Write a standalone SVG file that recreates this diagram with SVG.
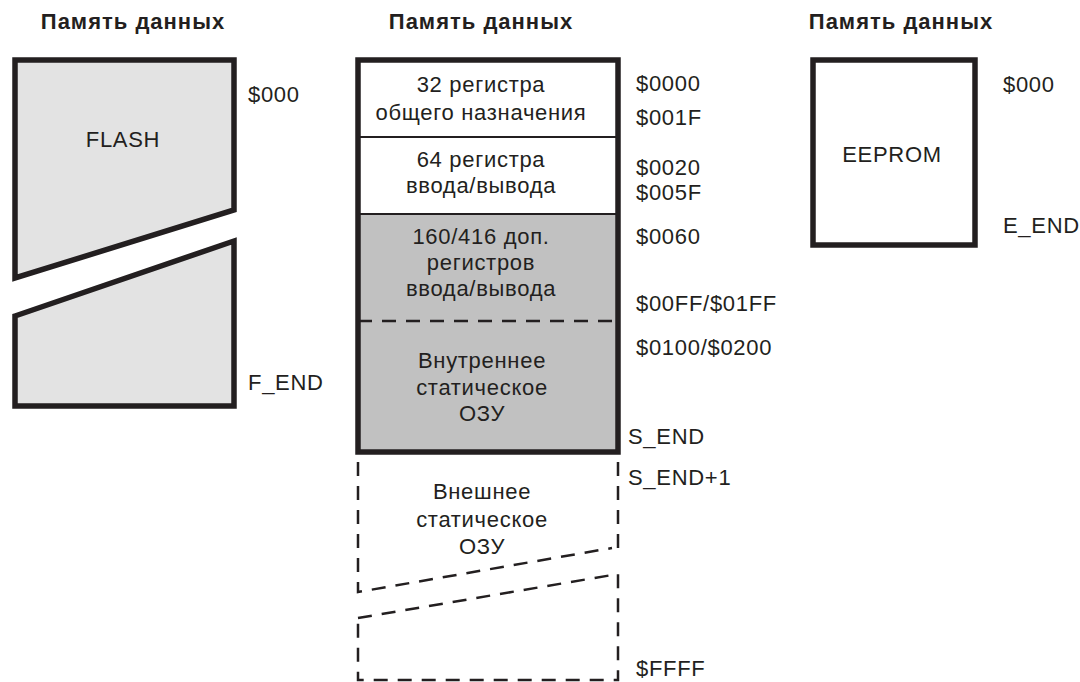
<svg xmlns="http://www.w3.org/2000/svg" width="1080" height="682" viewBox="0 0 1080 682">
<style>
  .t { font-family: "Liberation Sans", Arial, sans-serif; font-size: 22px; fill: #231f20; letter-spacing: 0.7px; }
  .c { text-anchor: middle; }
  .h { font-family: "Liberation Sans", Arial, sans-serif; font-size: 22px; font-weight: bold; fill: #231f20; text-anchor: middle; letter-spacing: 1px; }
  .thick { stroke: #231f20; stroke-width: 5.5; stroke-linejoin: miter; }
  .thin { stroke: #231f20; stroke-width: 2; fill: none; }
  .dash { stroke: #231f20; stroke-width: 2.5; fill: none; stroke-dasharray: 14 10; }
</style>
<rect width="1080" height="682" fill="#ffffff"/>

<g id="flash">
  <text class="h" x="133" y="29">Память данных</text>
  <polygon class="thick" fill="#e3e3e3" points="15,60 234,60 234,210 15,278"/>
  <polygon class="thick" fill="#e3e3e3" points="15,316 234,241 234,406 15,406"/>
  <text class="t c" x="123" y="147">FLASH</text>
  <text class="t" x="248" y="102">$000</text>
  <text class="t" x="248" y="390">F_END</text>
</g>

<g id="sram">
  <text class="h" x="481" y="29">Память данных</text>
  <rect x="358" y="214" width="260" height="238" fill="#c1c1c1"/>
  <line class="thin" x1="358" y1="137" x2="618" y2="137"/>
  <line class="thin" x1="358" y1="214" x2="618" y2="214"/>
  <line class="dash" x1="358" y1="321" x2="618" y2="321" stroke-dasharray="13 10"/>
  <rect class="thick" x="358" y="60" width="260" height="392" fill="none"/>
  <text class="t c" x="481" y="92">32 регистра</text>
  <text class="t c" x="481" y="120">общего назначения</text>
  <text class="t c" x="481" y="167">64 регистра</text>
  <text class="t c" x="481" y="193">ввода/вывода</text>
  <text class="t c" x="481" y="244">160/416 доп.</text>
  <text class="t c" x="481" y="270">регистров</text>
  <text class="t c" x="481" y="296">ввода/вывода</text>
  <text class="t c" x="482" y="368">Внутреннее</text>
  <text class="t c" x="482" y="395">статическое</text>
  <text class="t c" x="482" y="421">ОЗУ</text>
  <text class="t" x="636" y="91">$0000</text>
  <text class="t" x="636" y="125">$001F</text>
  <text class="t" x="636" y="175">$0020</text>
  <text class="t" x="636" y="200">$005F</text>
  <text class="t" x="636" y="244">$0060</text>
  <text class="t" x="636" y="311">$00FF/$01FF</text>
  <text class="t" x="636" y="355">$0100/$0200</text>
  <text class="t" x="628" y="444">S_END</text>
</g>

<g id="ext-sram">
  <polyline class="dash" points="358,462 358,592 612,548"/>
  <line class="dash" x1="618" y1="462" x2="618" y2="548"/>
  <polyline class="dash" points="358,618 618,574 618,680 358,680 358,618" stroke-dasharray="12 9"/>
  <text class="t c" x="482" y="499">Внешнее</text>
  <text class="t c" x="482" y="527">статическое</text>
  <text class="t c" x="482" y="554">ОЗУ</text>
  <text class="t" x="628" y="485">S_END+1</text>
  <text class="t" x="636" y="676">$FFFF</text>
</g>

<g id="eeprom">
  <text class="h" x="901" y="29">Память данных</text>
  <rect class="thick" x="813" y="60" width="162" height="185" fill="#ffffff"/>
  <text class="t c" x="892" y="162">EEPROM</text>
  <text class="t" x="1003" y="92">$000</text>
  <text class="t" x="1003" y="233" letter-spacing="0">E_END</text>
</g>

<g id="connectors"></g>
</svg>
